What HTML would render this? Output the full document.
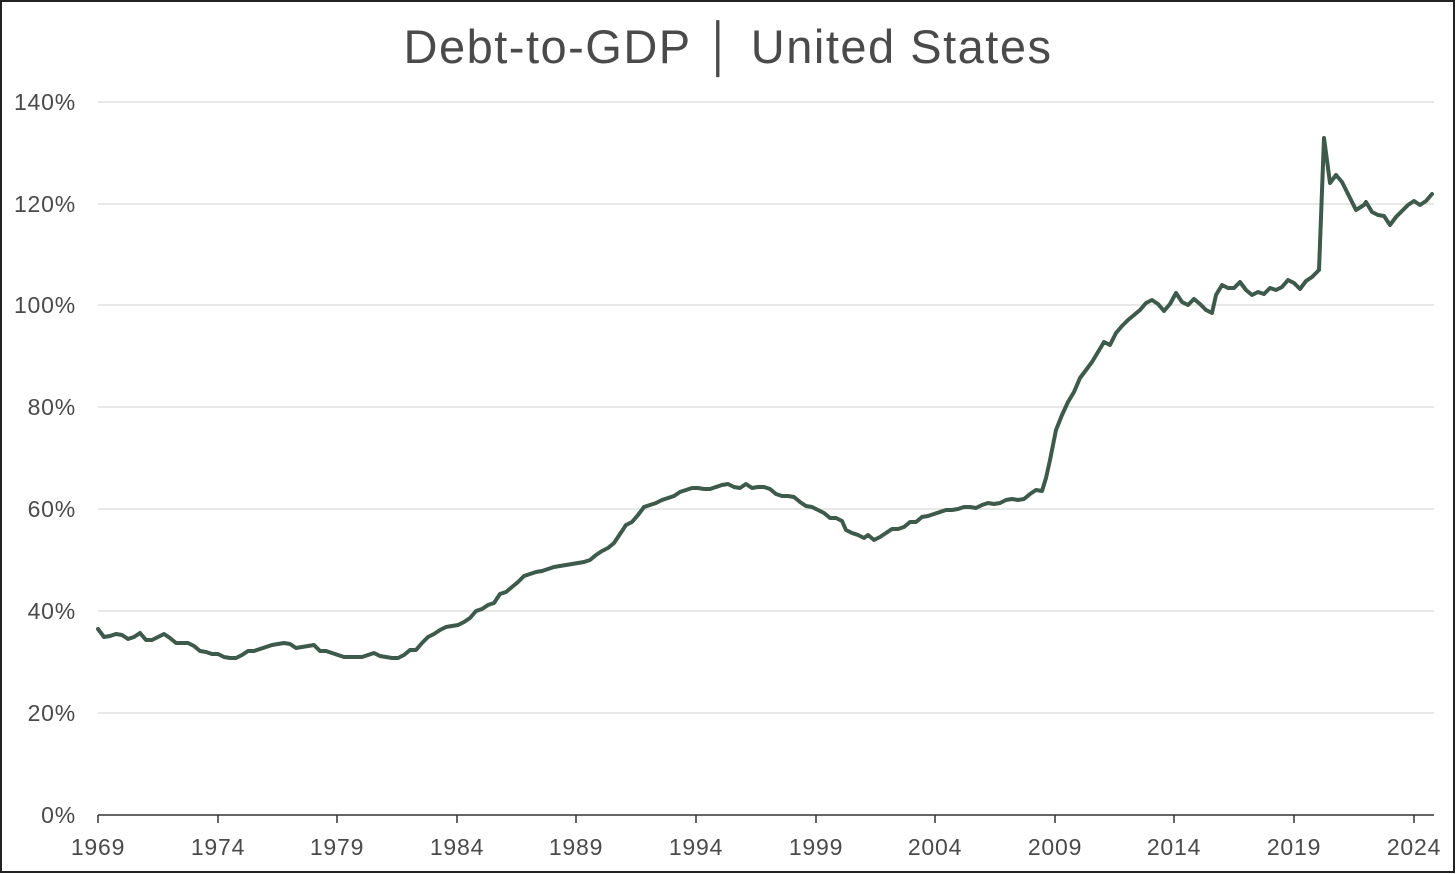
<!DOCTYPE html>
<html><head><meta charset="utf-8"><style>
html,body{margin:0;padding:0;background:#fff}
svg{display:block}
text{font-family:"Liberation Sans",sans-serif;fill:#4a4a4a}
</style></head><body>
<svg width="1456" height="874" viewBox="0 0 1456 874">
<rect x="1" y="1" width="1453" height="871" fill="#fff" stroke="#222" stroke-width="2"/>
<text x="728" y="63" font-size="47" letter-spacing="1.5" text-anchor="middle">Debt-to-GDP │ United States</text>
<g stroke="#d9d9d9" stroke-width="1.2">
<line x1="98" x2="1434" y1="102" y2="102"/><line x1="98" x2="1434" y1="204" y2="204"/>
<line x1="98" x2="1434" y1="305" y2="305"/><line x1="98" x2="1434" y1="407" y2="407"/>
<line x1="98" x2="1434" y1="509" y2="509"/><line x1="98" x2="1434" y1="611" y2="611"/>
<line x1="98" x2="1434" y1="713" y2="713"/>
</g>
<g stroke="#333" stroke-width="1.5">
<line x1="98" x2="1434" y1="815" y2="815"/>
<line x1="98" x2="98" y1="815" y2="823"/><line x1="218" x2="218" y1="815" y2="823"/>
<line x1="337" x2="337" y1="815" y2="823"/><line x1="457" x2="457" y1="815" y2="823"/>
<line x1="576" x2="576" y1="815" y2="823"/><line x1="696" x2="696" y1="815" y2="823"/>
<line x1="816" x2="816" y1="815" y2="823"/><line x1="935" x2="935" y1="815" y2="823"/>
<line x1="1055" x2="1055" y1="815" y2="823"/><line x1="1174" x2="1174" y1="815" y2="823"/>
<line x1="1294" x2="1294" y1="815" y2="823"/><line x1="1414" x2="1414" y1="815" y2="823"/>
</g>
<g font-size="23" letter-spacing="0.8" text-anchor="end">
<text x="76" y="110">140%</text><text x="76" y="212">120%</text><text x="76" y="313">100%</text>
<text x="76" y="415">80%</text><text x="76" y="517">60%</text><text x="76" y="619">40%</text>
<text x="76" y="721">20%</text><text x="76" y="823">0%</text>
</g>
<g font-size="23" letter-spacing="0.8" text-anchor="middle">
<text x="98" y="855">1969</text><text x="218" y="855">1974</text><text x="337" y="855">1979</text>
<text x="457" y="855">1984</text><text x="576" y="855">1989</text><text x="696" y="855">1994</text>
<text x="816" y="855">1999</text><text x="935" y="855">2004</text><text x="1055" y="855">2009</text>
<text x="1174" y="855">2014</text><text x="1294" y="855">2019</text><text x="1414" y="855">2024</text>
</g>
<polyline fill="none" stroke="#3d5a4c" stroke-width="4" stroke-linejoin="round" stroke-linecap="round" points="98,629 104,637 110,636 116,634 122,635 128,639 134,637 140,633 146,640 152,640 158,637 164,634 170,638 176,643 182,643 188,643 194,646 200,651 206,652 212,654 218,654 224,657 230,658 236,658 242,655 248,651 254,651 260,649 266,647 272,645 278,644 284,643 290,644 296,648 302,647 308,646 314,645 320,651 326,651 332,653 338,655 344,657 350,657 356,657 362,657 368,655 374,653 380,656 386,657 392,658 398,658 404,655 410,650 416,650 422,643 428,637 434,634 440,630 446,627 452,626 458,625 464,622 470,618 476,611 482,609 488,605 494,603 500,594 506,592 512,587 518,582 524,576 530,574 536,572 542,571 548,569 554,567 560,566 566,565 572,564 578,563 584,562 590,560 596,555 602,551 608,548 614,543 620,534 626,525 632,522 638,515 644,507 650,505 656,503 662,500 668,498 674,496 680,492 686,490 692,488 698,488 704,489 710,489 716,487 722,485 728,484 734,487 740,488 746,484 752,488 758,487 764,487 770,489 776,494 782,496 788,496 794,497 800,502 806,506 812,507 818,510 824,513 830,518 836,518 842,521 846,530 852,533 858,535 864,538 868,535 874,540 880,537 886,533 892,529 898,529 904,527 910,522 916,522 922,517 928,516 934,514 940,512 946,510 952,510 958,509 964,507 970,507 976,508 982,505 988,503 994,504 1000,503 1006,500 1012,499 1018,500 1024,499 1030,494 1036,490 1042,491 1046,478 1050,460 1056,430 1062,415 1068,402 1074,392 1080,378 1086,370 1092,362 1098,352 1104,342 1110,345 1116,333 1122,326 1128,320 1134,315 1140,310 1146,303 1152,300 1158,304 1164,311 1170,304 1176,293 1182,302 1188,305 1194,299 1200,304 1206,310 1212,313 1216,295 1222,285 1228,288 1234,288 1240,282 1246,290 1252,295 1258,292 1264,294 1270,288 1276,290 1282,287 1288,280 1294,283 1300,289 1306,281 1312,277 1319,270 1324,138 1330,183 1336,175 1342,182 1348,194 1356,210 1364,205 1366,202 1372,212 1378,215 1384,216 1390,225 1396,217 1402,211 1408,205 1414,201 1420,205 1426,201 1432,194"/>
</svg>
</body></html>
